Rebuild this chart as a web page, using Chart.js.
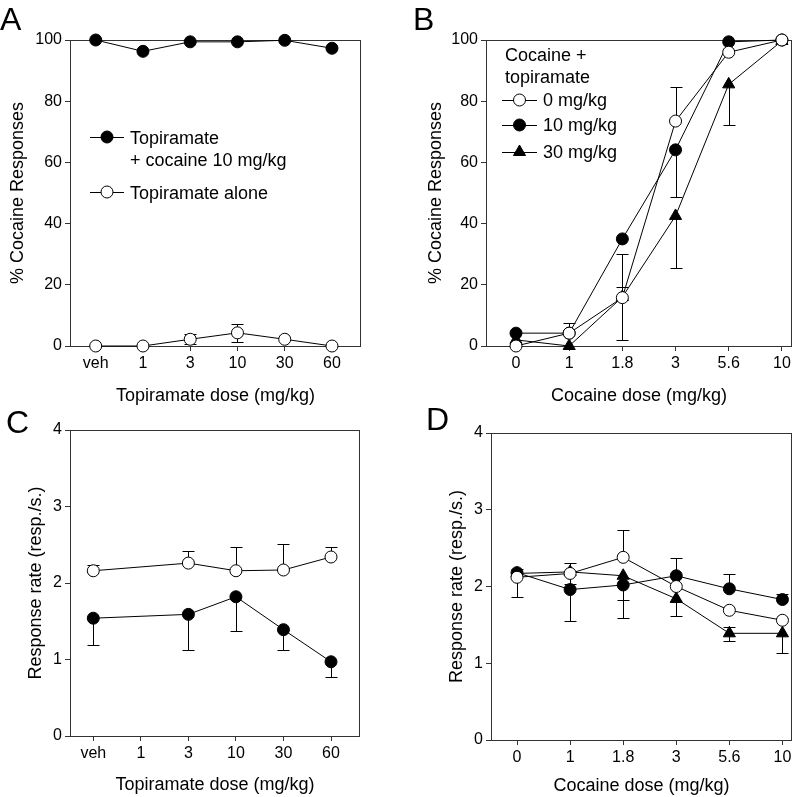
<!DOCTYPE html>
<html>
<head>
<meta charset="utf-8">
<script src="https://cdn.jsdelivr.net/npm/chart.js@4"></script>
<style>
  body { margin: 0; background: #fff; }
  #wrap { position: relative; width: 800px; height: 797px; overflow: hidden; }
  canvas { position: absolute; }
  .letter { position: absolute; font: 32px "Liberation Sans", Arial, sans-serif; line-height: 32px; color: #000; }
</style>
</head>
<body>
<div id="wrap">
  <canvas id="chartA" width="400" height="410" style="left:0;top:0"></canvas>
  <canvas id="chartB" width="400" height="410" style="left:400px;top:0"></canvas>
  <canvas id="chartC" width="400" height="397" style="left:0;top:400px"></canvas>
  <canvas id="chartD" width="400" height="397" style="left:400px;top:400px"></canvas>
  <div class="letter" style="left:0;top:3px">A</div>
  <div class="letter" style="left:413px;top:3px">B</div>
  <div class="letter" style="left:6px;top:406px">C</div>
  <div class="letter" style="left:426px;top:403px">D</div>
</div>
<script>
// tick labels
var topiramateDoses = ['veh', '1', '3', '10', '30', '60'];
var cocaineDoses = ['0', '1', '1.8', '3', '5.6', '10'];

// A: % cocaine responses vs topiramate dose
var aWithCocaine = [100, 96.3, 99.4, 99.4, 99.9, 97.3];
var aAlone = [0, 0, 2.2, 4.3, 2.2, 0];
var aAloneErr = [0, 0, 1.7, 2.9, 0, 0];

// B: % cocaine responses vs cocaine dose, topiramate 0 / 10 / 30 mg/kg
var b0 = [0, 4.2, 15.8, 73.5, 96, 100];
var b0Up = [0, 3.4, 14.2, 11.1, 0, 0];
var b0Down = [0, 0, 13.8, 0, 0, 0];
var b10 = [4.2, 4.2, 35, 64.1, 99.4, 100];
var b10Down = [0, 0, 0, 15.5, 0, 0];
var b30 = [2, 0, 16, 42.5, 85.5, 99.7];
var b30Up = [0, 0, 3.2, 0, 0, 0];
var b30Down = [0, 0, 0, 17, 13.4, 0];

// C: response rate vs topiramate dose
var cAlone = [2.16, null, 2.26, 2.16, 2.17, 2.34];
var cAloneUp = [0.08, 0, 0.16, 0.31, 0.34, 0.13];
var cWithCocaine = [1.54, null, 1.59, 1.82, 1.39, 0.97];
var cWithCocaineDown = [0.35, 0, 0.46, 0.45, 0.27, 0.2];

// D: response rate vs cocaine dose
var d0 = [2.12, 2.17, 2.38, 2.0, 1.69, 1.56];
var d0Up = [0, 0.13, 0.36, 0, 0, 0];
var d0Down = [0.26, 0, 0, 0.2, 0, 0];
var d10 = [2.18, 1.96, 2.02, 2.14, 1.97, 1.83];
var d10Up = [0.05, 0, 0, 0.23, 0.19, 0.07];
var d10Down = [0, 0.41, 0.43, 0, 0, 0];
var d30 = [2.17, 2.19, 2.14, 1.84, 1.39, 1.39];
var d30Up = [0, 0, 0, 0, 0.08, 0];
var d30Down = [0, 0.16, 0.31, 0.23, 0.1, 0.26];

var family = '"Liberation Sans", Arial, sans-serif';
Chart.defaults.font.family = family;
Chart.defaults.color = '#000';

function pts(vals) {
  return vals.map(function (v, i) { return { x: i, y: v }; });
}

function drawMarker(ctx, style, fill, x, y) {
  ctx.beginPath();
  if (style === 'triangle') {
    var r = 7;
    ctx.moveTo(x, y - r);
    ctx.lineTo(x + r * 0.866, y + r * 0.5);
    ctx.lineTo(x - r * 0.866, y + r * 0.5);
    ctx.closePath();
  } else {
    ctx.arc(x, y, 6, 0, Math.PI * 2);
  }
  ctx.fillStyle = fill;
  ctx.fill();
  ctx.strokeStyle = '#000';
  ctx.lineWidth = 1;
  ctx.stroke();
}

// box round the plot area + error bars, drawn under the lines
var frameAndErrors = {
  id: 'frameAndErrors',
  beforeDatasetsDraw: function (chart) {
    var ctx = chart.ctx, a = chart.chartArea, ys = chart.scales.y;
    ctx.save();
    ctx.strokeStyle = '#333';
    ctx.lineWidth = 1;
    var l = Math.round(a.left) + 0.5, t = Math.round(a.top) + 0.5;
    var r = Math.round(a.right) - 0.5, b = Math.round(a.bottom) + 0.5;
    ctx.strokeRect(l, t, r - l, b - t);
    ctx.strokeStyle = '#000';
    chart.data.datasets.forEach(function (ds, i) {
      var meta = chart.getDatasetMeta(i);
      meta.data.forEach(function (p, j) {
        var v = ds.data[j].y;
        if (v == null) return;
        var up = ds.errUp ? ds.errUp[j] : 0, dn = ds.errDown ? ds.errDown[j] : 0;
        var x = Math.round(p.x) + 0.5;
        [[up, 1], [dn, -1]].forEach(function (e) {
          if (!e[0]) return;
          var y0 = ys.getPixelForValue(v), y1 = Math.round(ys.getPixelForValue(v + e[1] * e[0])) + 0.5;
          ctx.beginPath();
          ctx.moveTo(x, y0); ctx.lineTo(x, y1);
          ctx.moveTo(x - 6, y1); ctx.lineTo(x + 6, y1);
          ctx.stroke();
        });
      });
    });
    ctx.restore();
  }
};

function legendPlugin(rows) {
  return {
    id: 'panelLegend',
    afterDatasetsDraw: function (chart) {
      var ctx = chart.ctx;
      ctx.save();
      ctx.font = '18px ' + family;
      ctx.textBaseline = 'alphabetic';
      rows.forEach(function (r) {
        if (r.style) {
          ctx.beginPath();
          ctx.strokeStyle = '#000';
          ctx.lineWidth = 1;
          ctx.moveTo(r.x0, r.sy + 0.5); ctx.lineTo(r.x1, r.sy + 0.5);
          ctx.stroke();
          drawMarker(ctx, r.style, r.fill, (r.x0 + r.x1) / 2, r.sy);
        }
        ctx.fillStyle = '#000';
        ctx.fillText(r.text, r.tx, r.ty);
      });
      ctx.restore();
    }
  };
}

function series(vals, style, fill, up, down) {
  var rad = style === 'triangle' ? 7 : 6;
  return {
    data: pts(vals),
    errUp: up, errDown: down,
    borderColor: '#000', borderWidth: 1,
    backgroundColor: fill,
    pointStyle: style,
    pointRadius: rad,
    pointHoverRadius: rad,
    pointBackgroundColor: fill, pointBorderColor: '#000', pointBorderWidth: 1,
    tension: 0, spanGaps: true, clip: false
  };
}

function panel(id, p) {
  var tickGrid = { display: true, drawOnChartArea: false, drawTicks: true, tickLength: 5, color: '#333' };
  return new Chart(document.getElementById(id), {
    type: 'line',
    data: { datasets: p.datasets },
    plugins: [frameAndErrors, legendPlugin(p.legend)],
    options: {
      responsive: false,
      animation: false,
      events: [],
      layout: { padding: p.pad },
      plugins: { legend: { display: false }, tooltip: { enabled: false } },
      scales: {
        x: {
          type: 'linear', min: p.xMin, max: p.xMax,
          grid: tickGrid, border: { display: false },
          afterBuildTicks: function (s) { s.ticks = p.labels.map(function (_, i) { return { value: i }; }); },
          afterFit: function (s) { s.height = p.xHeight; },
          ticks: {
            autoSkip: false, maxRotation: 0, padding: 3,
            font: { size: 16 },
            callback: function (v) { return p.labels[v]; }
          },
          title: { display: true, text: p.xTitle, font: { size: 18 }, padding: { top: 4, bottom: p.xTitlePad } }
        },
        y: {
          min: 0, max: p.yMax,
          grid: tickGrid, border: { display: false },
          afterFit: function (s) { s.width = p.yWidth; },
          ticks: { stepSize: p.yStep, padding: 3, font: { size: 16 } },
          title: { display: true, text: p.yTitle, font: { size: 18 }, padding: { top: 4, bottom: 4 } }
        }
      }
    }
  });
}

panel('chartA', {
  labels: topiramateDoses, xMin: -0.544, xMax: 5.614,
  yMax: 100, yStep: 20,
  xTitle: 'Topiramate dose (mg/kg)', yTitle: '% Cocaine Responses',
  pad: { left: 3, top: 40, right: 39, bottom: 0 }, yWidth: 67, xHeight: 64, xTitlePad: 3,
  datasets: [
    series(aWithCocaine, 'circle', '#000'),
    series(aAlone, 'circle', '#fff', aAloneErr, aAloneErr)
  ],
  legend: [
    { style: 'circle', fill: '#000', x0: 90, x1: 124, sy: 137, text: 'Topiramate', tx: 130, ty: 144 },
    { text: '+ cocaine 10 mg/kg', tx: 130, ty: 166 },
    { style: 'circle', fill: '#fff', x0: 90, x1: 124, sy: 192, text: 'Topiramate alone', tx: 130, ty: 199 }
  ]
});

panel('chartB', {
  labels: cocaineDoses, xMin: -0.564, xMax: 5.19,
  yMax: 100, yStep: 20,
  xTitle: 'Cocaine dose (mg/kg)', yTitle: '% Cocaine Responses',
  pad: { left: 21, top: 40, right: 1, bottom: 0 }, yWidth: 65, xHeight: 64, xTitlePad: 3,
  datasets: [
    series(b0, 'circle', '#fff', b0Up, b0Down),
    series(b10, 'circle', '#000', null, b10Down),
    series(b30, 'triangle', '#000', b30Up, b30Down)
  ],
  legend: [
    { text: 'Cocaine +', tx: 105, ty: 61 },
    { text: 'topiramate', tx: 105, ty: 83 },
    { style: 'circle', fill: '#fff', x0: 102, x1: 137, sy: 100, text: '0 mg/kg', tx: 143, ty: 106 },
    { style: 'circle', fill: '#000', x0: 102, x1: 137, sy: 125, text: '10 mg/kg', tx: 143, ty: 131 },
    { style: 'triangle', fill: '#000', x0: 102, x1: 137, sy: 152, text: '30 mg/kg', tx: 143, ty: 158 }
  ]
});

panel('chartC', {
  labels: topiramateDoses, xMin: -0.49, xMax: 5.61,
  yMax: 4, yStep: 1,
  xTitle: 'Topiramate dose (mg/kg)', yTitle: 'Response rate (resp./s.)',
  pad: { left: 21, top: 30, right: 40, bottom: 0 }, yWidth: 49, xHeight: 61, xTitlePad: 1,
  datasets: [
    series(cAlone, 'circle', '#fff', cAloneUp, null),
    series(cWithCocaine, 'circle', '#000', null, cWithCocaineDown)
  ],
  legend: []
});

panel('chartD', {
  labels: cocaineDoses, xMin: -0.49, xMax: 5.18,
  yMax: 4, yStep: 1,
  xTitle: 'Cocaine dose (mg/kg)', yTitle: 'Response rate (resp./s.)',
  pad: { left: 42, top: 33, right: 1, bottom: 0 }, yWidth: 49, xHeight: 57, xTitlePad: 0,
  datasets: [
    series(d0, 'circle', '#fff', d0Up, d0Down),
    series(d10, 'circle', '#000', d10Up, d10Down),
    series(d30, 'triangle', '#000', d30Up, d30Down)
  ],
  legend: []
});
</script>
</body>
</html>
